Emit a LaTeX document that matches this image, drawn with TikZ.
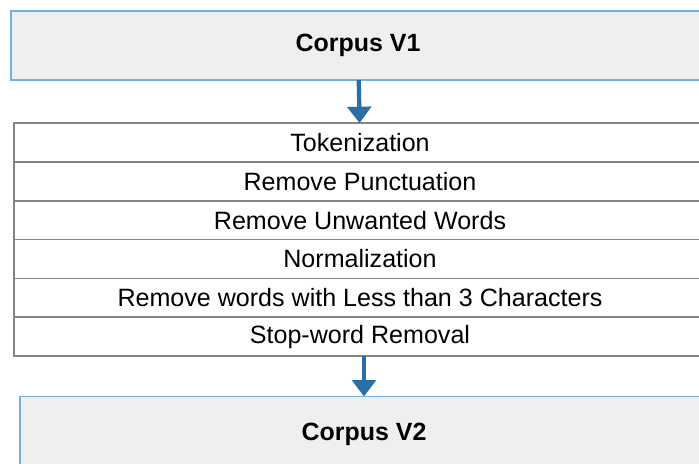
\documentclass[tikz,border=0pt]{standalone}
\usepackage{fontspec}
\setmainfont{Liberation Sans}
\usetikzlibrary{positioning,arrows.meta}

\definecolor{corpusfill}{HTML}{EEF0F0}
\definecolor{corpusline}{HTML}{72B2E2}
\definecolor{flowblue}{HTML}{2B6DA5}
\definecolor{rowline}{HTML}{858585}

\tikzset{
    corpus/.style={draw=corpusline, fill=corpusfill, line width=1.4pt,
        minimum width=20.8cm, minimum height=2.07cm, outer sep=0pt,
        font=\fontsize{21.3}{24}\selectfont\bfseries},
    steprow/.style={draw=rowline, fill=white, line width=1.4pt,
        minimum width=20.76cm, minimum height=1.165cm, outer sep=0pt,
        font=\fontsize{21.4}{24}\selectfont},
    flow/.style={draw=flowblue, line width=3.6pt,
        -{Triangle[width=20pt,length=14pt]}},
}

\begin{document}
\begin{tikzpicture}[x=0.03cm,y=-0.03cm]
    \useasboundingbox (0,0) rectangle (699,463);
    \node[corpus] (v1) at (358,45.5) {Corpus V1};
    % preprocessing steps
    \node[steprow] (tok) at (360,142.5) {Tokenization};
    \node[steprow, below=0pt of tok] (punct) {Remove Punctuation};
    \node[steprow, below=0pt of punct] (unwanted) {Remove Unwanted Words};
    \node[steprow, below=0pt of unwanted] (norm) {Normalization};
    \node[steprow, below=0pt of norm] (short) {Remove words with Less than 3 Characters};
    \node[steprow, below=0pt of short] (stop) {Stop-word Removal};
    \node[corpus, minimum width=20.64cm, minimum height=2.25cm] (v2) at (364,434) {Corpus V2};
    \draw[flow] (v1) -- (tok);
    \draw[flow] (stop.south -| v2.north) -- (v2.north);
\end{tikzpicture}
\end{document}
